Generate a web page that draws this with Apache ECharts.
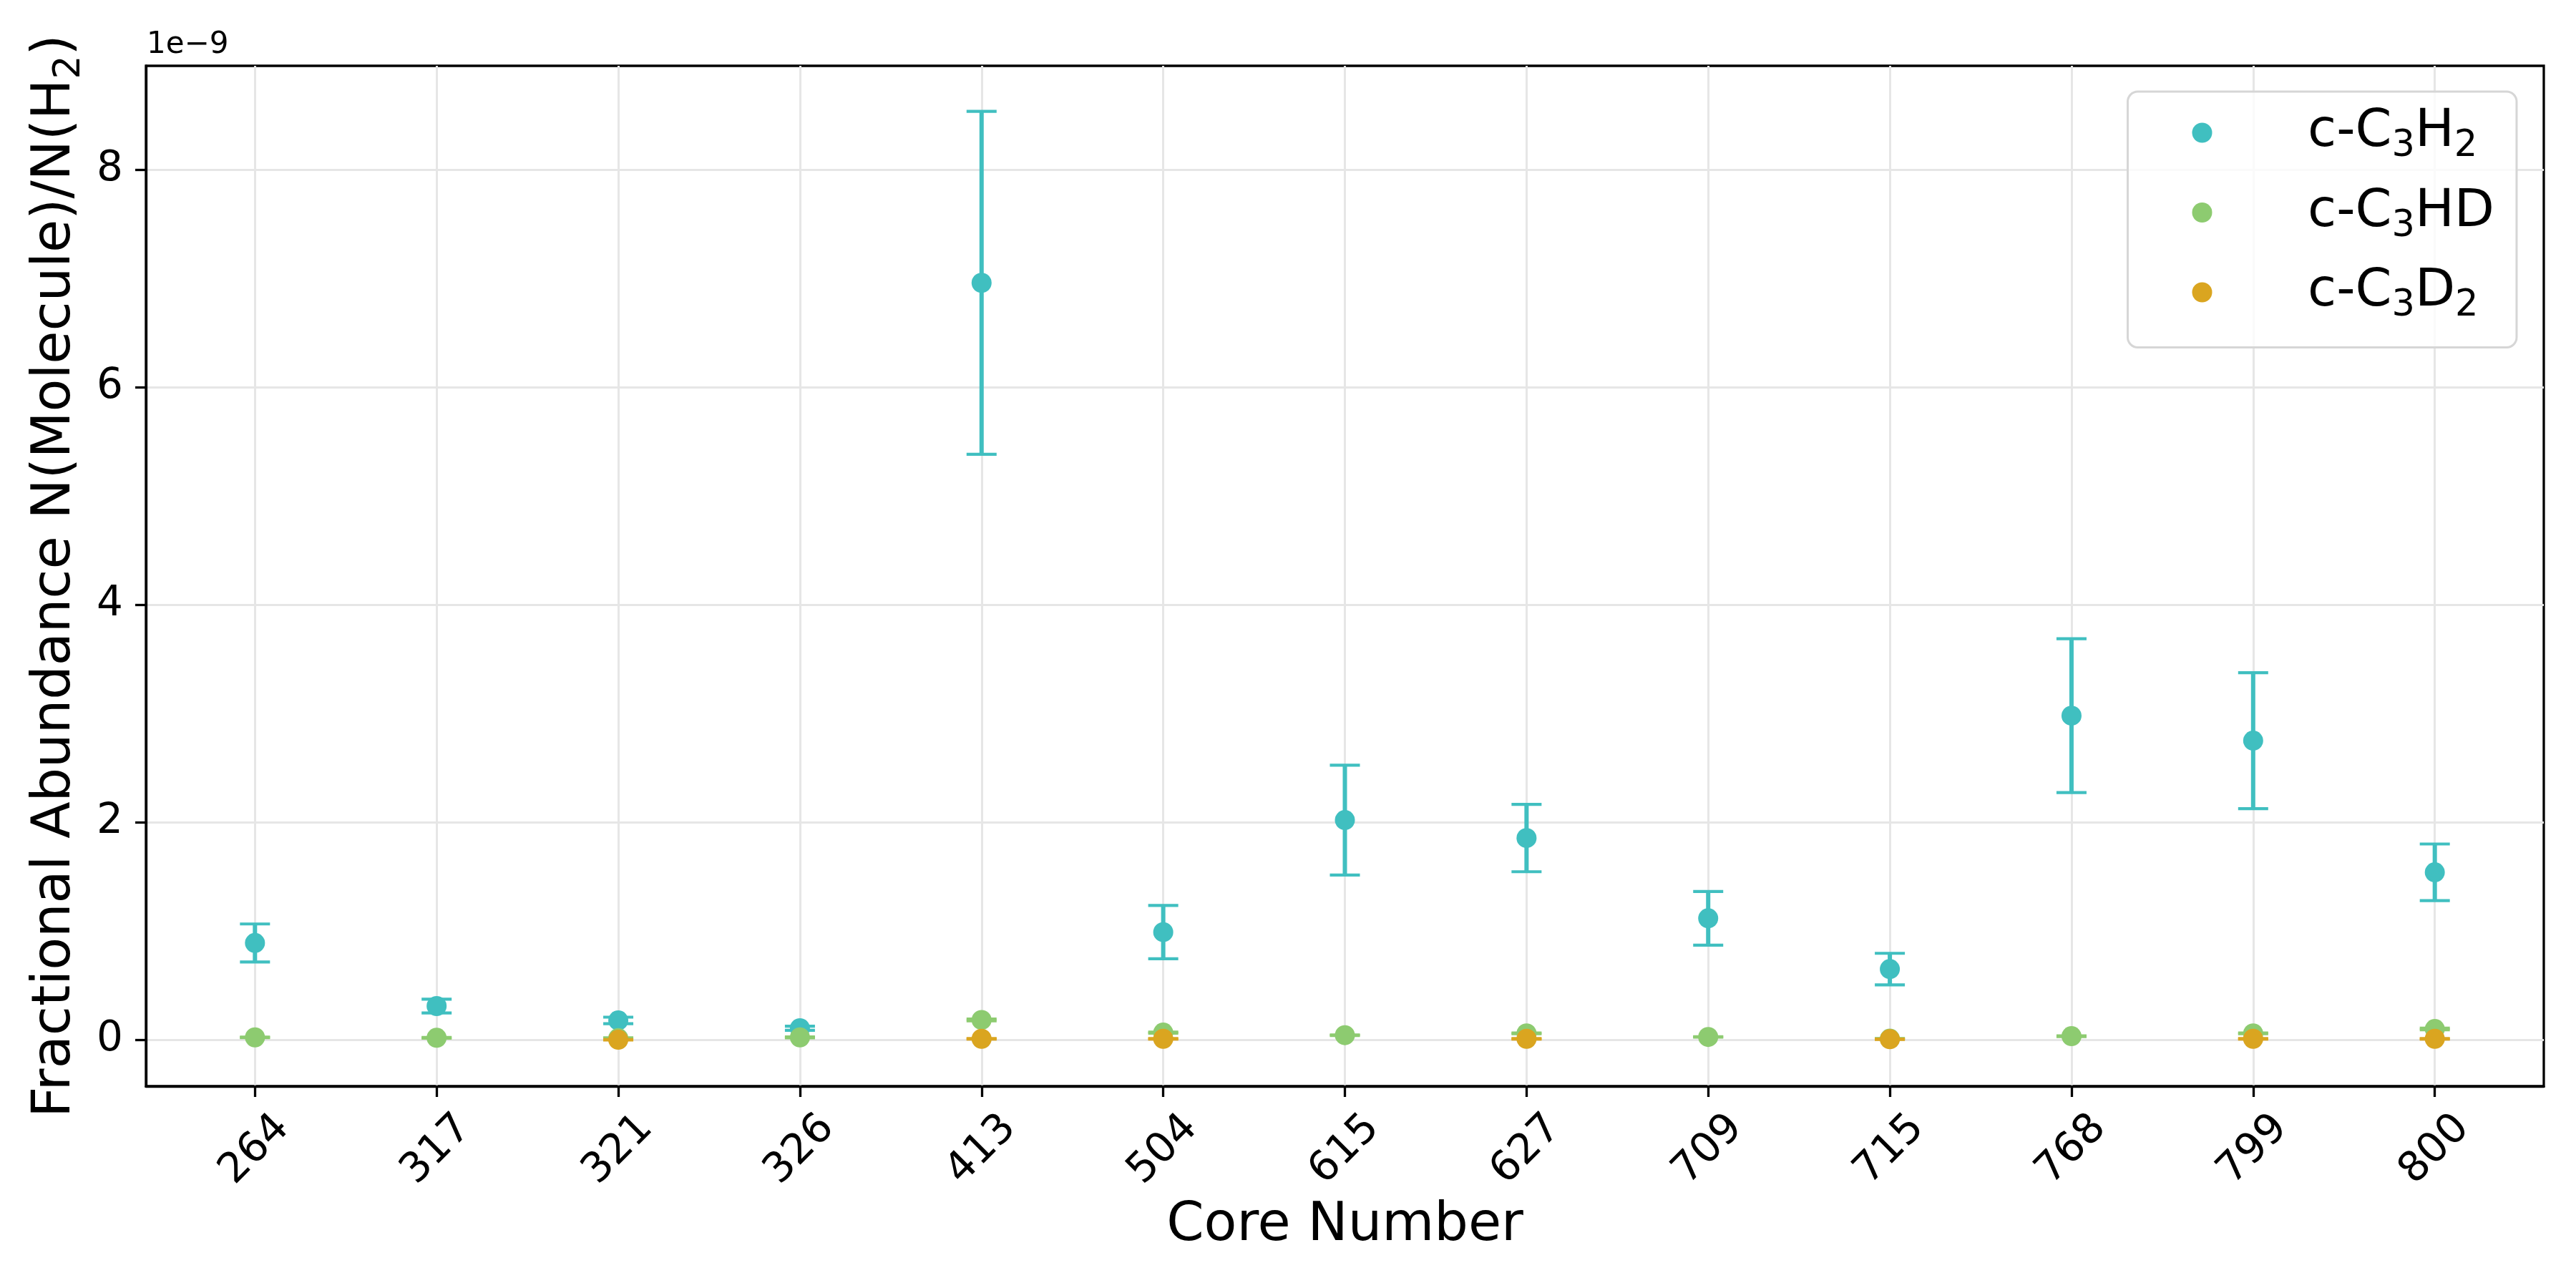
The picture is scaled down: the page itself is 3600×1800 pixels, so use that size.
<!DOCTYPE html>
<html>
<head>
<meta charset="utf-8">
<script src="https://cdn.jsdelivr.net/npm/echarts@6/dist/echarts.min.js"></script>
<style>
  html, body { margin: 0; padding: 0; background: #ffffff; }
  #chart { width: 3600px; height: 1800px; }
</style>
</head>
<body>
<div id="chart"></div>
<script>
// Values are in units of 1e-9 (axis offset text "1e−9")
const categories = ['264','317','321','326','413','504','615','627','709','715','768','799','800'];

const c3h2Values = [0.89, 0.31, 0.178, 0.106, 6.96, 0.99, 2.02, 1.855, 1.117, 0.65, 2.98, 2.75, 1.54];
const c3h2Errors = [0.175, 0.063, 0.03, 0.019, 1.577, 0.245, 0.505, 0.31, 0.247, 0.145, 0.707, 0.625, 0.26];

const c3hdValues = [0.022, 0.018, 0.015, 0.022, 0.182, 0.066, 0.042, 0.059, 0.026, 0.010, 0.033, 0.059, 0.099];
const c3hdErrors = [0.003, 0.003, 0.003, 0.004, 0.008, 0.005, 0.003, 0.004, 0.002, 0.002, 0.003, 0.004, 0.008];

const c3d2Values = [null, null, 0.0, null, 0.009, 0.009, null, 0.009, null, 0.005, null, 0.009, 0.009];
const c3d2Errors = [null, null, 0.002, null, 0.002, 0.002, null, 0.002, null, 0.002, null, 0.002, 0.002];

const yTickValues = [0, 2, 4, 6, 8];
const seriesNames = ['c-C3H2', 'c-C3HD', 'c-C3D2'];
const legendRich = {
  'c-C3H2': '{a|c-C}{s|3}{a|H}{s|2}',
  'c-C3HD': '{a|c-C}{s|3}{a|HD}',
  'c-C3D2': '{a|c-C}{s|3}{a|D}{s|2}'
};
const colors = ['#40BFC0', '#8DCB70', '#DAA520'];

const FONT = 'DejaVu Sans';

function pointData(vals) {
  const out = [];
  vals.forEach((v, i) => { if (v !== null) out.push([i, v]); });
  return out;
}
function errData(vals, errs) {
  const out = [];
  vals.forEach((v, i) => { if (v !== null) out.push([i, v - errs[i], v + errs[i]]); });
  return out;
}
function errSeries(name, vals, errs, color, z) {
  return {
    type: 'custom',
    name: name + '_err',
    z: z,
    silent: true,
    data: errData(vals, errs),
    encode: { x: 0, y: [1, 2] },
    renderItem: function (params, api) {
      const x = api.value(0);
      const lo = api.coord([x, api.value(1)]);
      const hi = api.coord([x, api.value(2)]);
      const cap = 21;
      return {
        type: 'group',
        children: [
          { type: 'line', shape: { x1: lo[0], y1: lo[1], x2: hi[0], y2: hi[1] }, style: { stroke: color, lineWidth: 6 } },
          { type: 'line', shape: { x1: hi[0] - cap, y1: hi[1], x2: hi[0] + cap, y2: hi[1] }, style: { stroke: color, lineWidth: 4.2 } },
          { type: 'line', shape: { x1: lo[0] - cap, y1: lo[1], x2: lo[0] + cap, y2: lo[1] }, style: { stroke: color, lineWidth: 4.2 } }
        ]
      };
    }
  };
}
function pointSeries(name, vals, color, z) {
  return {
    type: 'scatter',
    name: name,
    z: z,
    symbol: 'circle',
    symbolSize: 28,
    itemStyle: { color: color, opacity: 1 },
    data: pointData(vals)
  };
}

const chart = echarts.init(document.getElementById('chart'), null, { renderer: 'canvas' });

const option = {
  backgroundColor: '#ffffff',
  animation: false,
  textStyle: { fontFamily: FONT },
  grid: {
    left: 204, right: 45, top: 92, bottom: 282,
    show: true, borderColor: '#000000', borderWidth: 3.3, backgroundColor: 'transparent'
  },
  xAxis: {
    type: 'value',
    min: -0.6, max: 12.6,
    name: 'Core Number',
    nameLocation: 'middle',
    nameGap: 158,
    nameTextStyle: { fontSize: 75, color: '#000', fontFamily: FONT },
    axisLine: { show: true, onZero: false, lineStyle: { color: '#000', width: 3.3 } },
    axisTick: { show: true, length: 15, customValues: categories.map((c, i) => i), lineStyle: { color: '#000', width: 3.3 } },
    axisLabel: {
      customValues: categories.map((c, i) => i),
      formatter: function (v) { return categories[Math.round(v)]; },
      rotate: 45, align: 'center', verticalAlign: 'middle', margin: 89,
      fontSize: 58, color: '#000', fontFamily: FONT
    },
    splitLine: { show: true, lineStyle: { color: '#e6e6e6', width: 3 } }
  },
  yAxis: {
    type: 'value',
    min: -0.427, max: 8.955,
    name: '{a|Fractional Abundance N(Molecule)/N(H}{s|2}{a|)}',
    nameLocation: 'middle',
    nameGap: 81,
    nameTextStyle: {
      color: '#000', fontFamily: FONT,
      rich: {
        a: { fontSize: 75, lineHeight: 90, fontFamily: FONT, color: '#000' },
        s: { fontSize: 52, lineHeight: 50, verticalAlign: 'bottom', fontFamily: FONT, color: '#000' }
      }
    },
    axisLine: { show: true, onZero: false, lineStyle: { color: '#000', width: 3.3 } },
    axisTick: { show: true, length: 15, customValues: yTickValues, lineStyle: { color: '#000', width: 3.3 } },
    axisLabel: { customValues: yTickValues, margin: 32, fontSize: 58, color: '#000', fontFamily: FONT },
    splitLine: { show: true, lineStyle: { color: '#e6e6e6', width: 3 } }
  },
  legend: {
    data: seriesNames,
    orient: 'vertical',
    right: 83, top: 128,
    padding: [21, 31, 32, 90],
    itemWidth: 285, itemHeight: 28,
    itemGap: 30,
    icon: 'circle',
    backgroundColor: 'rgba(255,255,255,0.8)',
    borderColor: '#d6d6d6', borderWidth: 3, borderRadius: 14,
    formatter: function (name) { return legendRich[name]; },
    textStyle: {
      color: '#000', fontFamily: FONT,
      rich: {
        a: { fontSize: 73, lineHeight: 90, fontFamily: FONT, color: '#000' },
        s: { fontSize: 51, lineHeight: 50, verticalAlign: 'bottom', fontFamily: FONT, color: '#000' }
      }
    }
  },
  graphic: [
    { type: 'text', left: 205, top: 42, style: { text: '1e\u22129', fontSize: 42, fontFamily: FONT, fill: '#000' } }
  ],
  series: [
    errSeries(seriesNames[0], c3h2Values, c3h2Errors, colors[0], 2),
    pointSeries(seriesNames[0], c3h2Values, colors[0], 3),
    errSeries(seriesNames[1], c3hdValues, c3hdErrors, colors[1], 4),
    pointSeries(seriesNames[1], c3hdValues, colors[1], 5),
    errSeries(seriesNames[2], c3d2Values, c3d2Errors, colors[2], 6),
    pointSeries(seriesNames[2], c3d2Values, colors[2], 7)
  ]
};
chart.setOption(option);
</script>
</body>
</html>
